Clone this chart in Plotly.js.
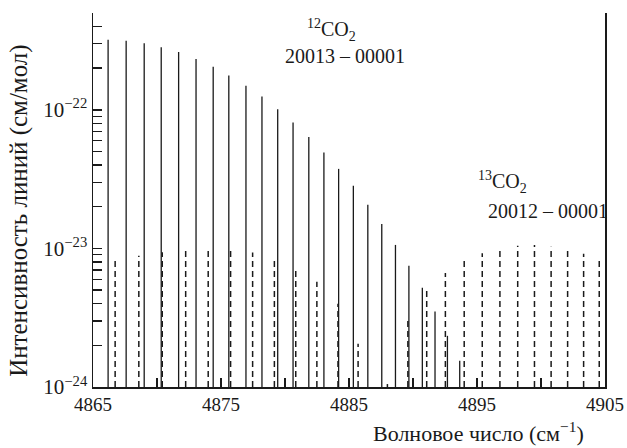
<!DOCTYPE html>
<html>
<head>
<meta charset="utf-8">
<script src="https://cdn.plot.ly/plotly-3.0.1.min.js"></script>
<style>html,body{margin:0;padding:0;background:#fff;}#chart{width:627px;height:448px;}</style>
</head>
<body>
<div id="chart"></div>
<script>
// 12CO2 band 20013 - 00001 (solid lines)
const co2_12_wavenumber = [4866.18, 4867.59, 4869.0, 4870.33, 4871.69, 4873.05, 4874.39, 4875.61, 4876.95, 4878.2,
  4879.43, 4880.63, 4881.86, 4883.04, 4884.19, 4885.34, 4886.47, 4887.56, 4888.63, 4889.68, 4890.73, 4891.72, 4892.69, 4893.65];
const co2_12_intensity = [3.2e-22, 3.15e-22, 3.03e-22, 2.83e-22, 2.61e-22, 2.33e-22, 2.05e-22, 1.77e-22, 1.49e-22, 1.25e-22,
  1.01e-22, 8.1e-23, 6.38e-23, 4.92e-23, 3.75e-23, 2.83e-23, 2.07e-23, 1.50e-23, 1.06e-23, 7.5e-24, 5.2e-24, 3.5e-24, 2.34e-24, 1.55e-24];
// 13CO2 band 20012 - 00001 (dashed lines)
const co2_13_wavenumber = [4866.73, 4868.58, 4870.41, 4872.24, 4874.0, 4875.75, 4877.47, 4879.17, 4880.84, 4882.49, 4884.14, 4885.71,
  4888.0, 4889.6, 4891.07, 4892.53, 4894.0, 4895.41, 4896.79, 4898.18, 4899.49, 4900.79, 4902.08, 4903.33, 4904.55];
const co2_13_intensity = [8.15e-24, 8.85e-24, 9.4e-24, 9.77e-24, 9.93e-24, 9.77e-24, 9.33e-24, 8.38e-24, 7.28e-24, 5.74e-24, 3.98e-24, 2.05e-24,
  1.05e-24, 3.05e-24, 4.97e-24, 6.64e-24, 8.15e-24, 9.24e-24, 9.98e-24, 1.045e-23, 1.057e-23, 1.028e-23, 9.82e-24, 9.14e-24, 8.38e-24];

const baseline = 1e-24;
const xTickVals = [4865, 4875, 4885, 4895, 4905];
const xTickText = ['4865', '4875', '4885', '4895', '4905'];
const xMinorTickVals = [4870, 4880, 4890, 4900];
const yTickVals = [1e-24, 1e-23, 1e-22];
const yTickText = ['10<sup>−24</sup>', '10<sup>−23</sup>', '10<sup>−22</sup>'];
const yMinorTickVals = [2e-24,3e-24,4e-24,5e-24,6e-24,7e-24,8e-24,9e-24,2e-23,3e-23,4e-23,5e-23,6e-23,7e-23,8e-23,9e-23,2e-22,3e-22,4e-22];

function sticks(xs, ys) {
  const X = [], Y = [];
  xs.forEach((x, i) => { X.push(x, x, null); Y.push(baseline, ys[i], null); });
  return {X, Y};
}
const s12 = sticks(co2_12_wavenumber, co2_12_intensity);
const s13 = sticks(co2_13_wavenumber, co2_13_intensity);

const FAM = 'Liberation Serif, Times New Roman, serif';
const INK = '#1a1a1a';
function f(size) { return {family: FAM, size: size, color: INK}; }

const traces = [
  {x: s12.X, y: s12.Y, type: 'scatter', mode: 'lines', line: {color: INK, width: 1.3}, hoverinfo: 'skip', showlegend: false},
  {x: s13.X, y: s13.Y, type: 'scatter', mode: 'lines', line: {color: INK, width: 1.5, dash: '6px,4px'}, hoverinfo: 'skip', showlegend: false}
];

const layout = {
  width: 627, height: 448,
  margin: {l: 93, r: 22, t: 13, b: 61},
  paper_bgcolor: '#fff', plot_bgcolor: '#fff',
  font: f(19),
  showlegend: false,
  xaxis: {
    range: [4865, 4905], tickvals: xTickVals, ticktext: xTickText,
    ticks: 'inside', ticklen: 9, tickwidth: 1.3, tickcolor: INK,
    minor: {tickvals: xMinorTickVals, ticks: 'inside', ticklen: 9, tickwidth: 1.3, tickcolor: INK},
    showline: true, linecolor: INK, linewidth: 1.5, mirror: false,
    showgrid: false, zeroline: false,
    tickfont: f(19)
  },
  yaxis: {
    type: 'log', range: [-24, Math.log10(5e-22)],
    tickvals: yTickVals, ticktext: yTickText,
    ticks: 'inside', ticklen: 9, tickwidth: 1.3, tickcolor: INK,
    minor: {tickvals: yMinorTickVals, ticks: 'inside', ticklen: 9, tickwidth: 1.3, tickcolor: INK},
    showline: true, linecolor: INK, linewidth: 1.5, mirror: true,
    showgrid: false, zeroline: false,
    tickfont: f(21)
  },
  annotations: [
    {xref: 'paper', yref: 'paper', x: 0.752, y: -0.12, xanchor: 'center', yanchor: 'middle', showarrow: false,
      text: 'Волновое число (см<sup>−1</sup>)', font: f(22)},
    {xref: 'paper', yref: 'paper', x: -0.145, y: 0.473, xanchor: 'center', yanchor: 'middle', showarrow: false, textangle: -90,
      text: 'Интенсивность линий (см/мол)', font: f(25)},
    {xref: 'paper', yref: 'paper', x: 0.465, y: 0.955, xanchor: 'center', yanchor: 'middle', showarrow: false,
      text: '<sup>12</sup>CO<sub>2</sub>', font: f(20)},
    {xref: 'paper', yref: 'paper', x: 0.492, y: 0.885, xanchor: 'center', yanchor: 'middle', showarrow: false,
      text: '20013 – 00001', font: f(20)},
    {xref: 'paper', yref: 'paper', x: 0.80, y: 0.548, xanchor: 'center', yanchor: 'middle', showarrow: false,
      text: '<sup>13</sup>CO<sub>2</sub>', font: f(20)},
    {xref: 'paper', yref: 'paper', x: 0.888, y: 0.47, xanchor: 'center', yanchor: 'middle', showarrow: false,
      text: '20012 – 00001', font: f(20)}
  ]
};

Plotly.newPlot('chart', traces, layout, {staticPlot: true, displayModeBar: false});
</script>
</body>
</html>
